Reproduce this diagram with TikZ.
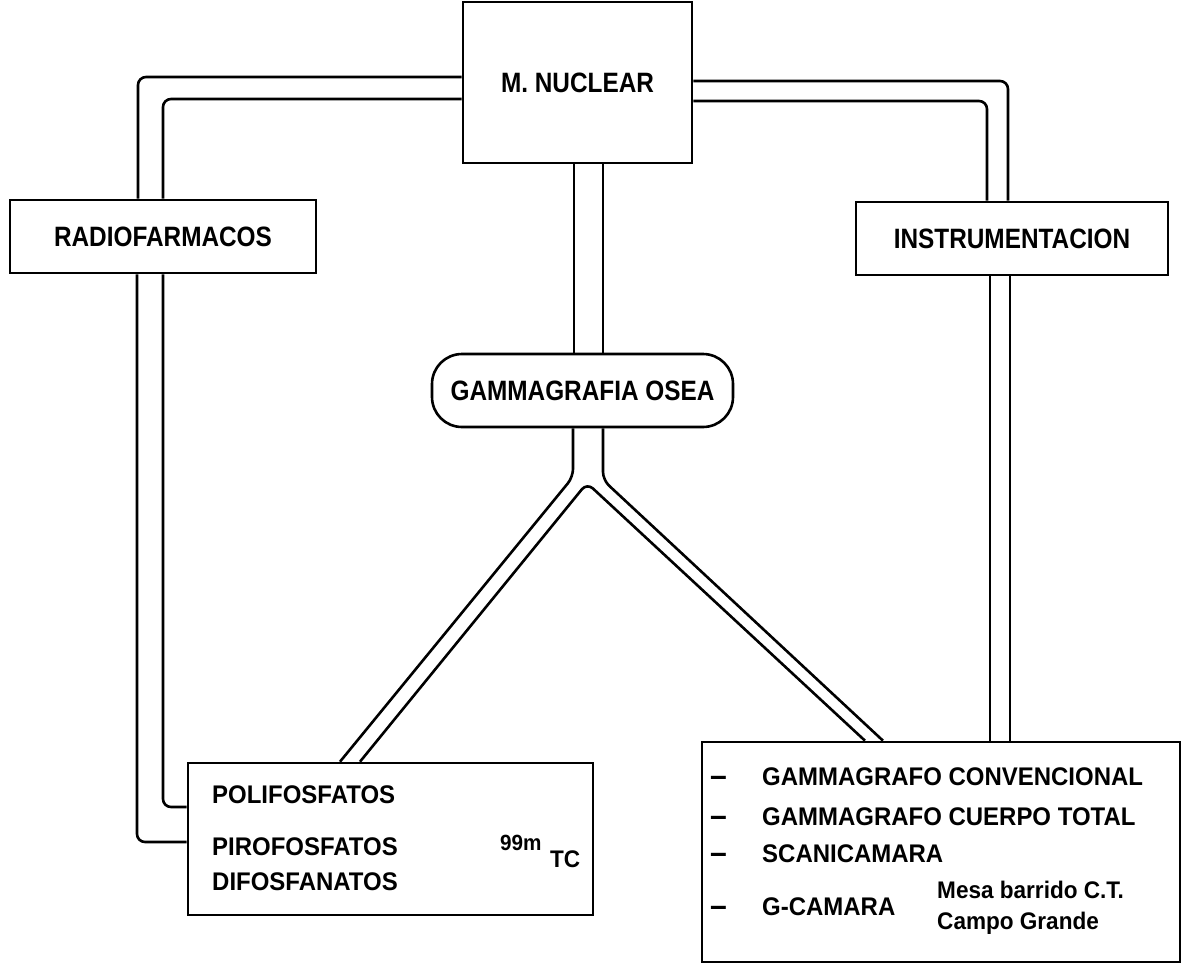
\documentclass[tikz,border=0pt]{standalone}
\usepackage{fontspec}
\newfontfamily\labelfont{Liberation Sans}[FakeStretch=0.87]
\newfontfamily\listfont{Liberation Sans}[FakeStretch=0.94]

\begin{document}
\begin{tikzpicture}[x = 1pt, y = -1pt,
		box/.style = {draw, line width = 2.6pt, fill = white, inner sep = 0pt, font = \labelfont\bfseries\fontsize{28}{32}\selectfont},
		pipe/.style = {line width = 2.6pt, rounded corners = 8pt},
		item/.style = {anchor = base west, inner sep = 0pt, font = \listfont\bfseries\fontsize{25.5}{30}\selectfont},
		note/.style = {item, font = \listfont\bfseries\fontsize{24}{28}\selectfont}]
	\useasboundingbox (0,0) rectangle (1183,967);
	\node[box, minimum width = 229pt, minimum height = 161pt] (nuclear) at (577.5,82.5) {M. NUCLEAR};
	\node[box, minimum width = 306pt, minimum height = 73pt] (radio) at (163,236.5) {RADIOFARMACOS};
	\node[box, minimum width = 312pt, minimum height = 73pt] (instr) at (1012,238.5) {INSTRUMENTACION};
	\node[box, rounded corners = 30pt, minimum width = 301pt, minimum height = 73pt] (gamma) at (582.5,390.5) {GAMMAGRAFIA OSEA};
	\node[box, minimum width = 405pt, minimum height = 152pt] (fosfatos) at (390.5,839) {}; %radiofarmacos list
	\node[box, minimum width = 478pt, minimum height = 220pt] (equipos) at (941,852) {}; %instrumentacion list
	\node[item] (poli) at (212,803) {POLIFOSFATOS};
	\node[item] (piro) at (212,855) {PIROFOSFATOS};
	\node[item] (difo) at (212,890) {DIFOSFANATOS};
	\node[item, font = \listfont\bfseries\fontsize{22}{26}\selectfont] (isot) at (500,850) {99m};
	\node[item, font = \listfont\bfseries\fontsize{24}{28}\selectfont] (tc) at (550,867) {TC};
	\foreach \y/\txt [count = \i] in {785/GAMMAGRAFO CONVENCIONAL, 825/GAMMAGRAFO CUERPO TOTAL, 862/SCANICAMARA, 915/G-CAMARA} {
		\node[item, font = \listfont\bfseries\fontsize{32}{36}\selectfont] (dash\i) at (710,\y+1.5) {–};
		\node[item] (eq\i) at (762,\y) {\txt};
	}
	\node[note] (mesa) at (937,898) {Mesa barrido C.T.};
	\node[note] (campo) at (937,929) {Campo Grande};
	\draw[pipe] (nuclear.west |- 0,77) -| (radio.north -| 138,0); %left pipe
	\draw[pipe] (nuclear.west |- 0,99) -| (radio.north -| 163,0);
	\draw[pipe] (radio.south -| 137,0) |- (fosfatos.west |- 0,842);
	\draw[pipe] (radio.south -| 163,0) |- (fosfatos.west |- 0,807);
	\draw[pipe] (nuclear.east |- 0,81) -| (instr.north -| 1008,0); %right pipe
	\draw[pipe] (nuclear.east |- 0,101) -| (instr.north -| 987,0);
	\draw[pipe] (instr.south -| 990,0) -- (equipos.north -| 990,0);
	\draw[pipe] (instr.south -| 1010,0) -- (equipos.north -| 1010,0);
	\draw[pipe] (nuclear.south -| 574,0) -- (gamma.north -| 574,0); %stem
	\draw[pipe] (nuclear.south -| 603,0) -- (gamma.north -| 603,0);
	\coordinate (forkL) at (573,477);
	\coordinate (forkR) at (603,480);
	\coordinate (apex) at (587,483);
	\draw[pipe] (gamma.south -| forkL) -- (forkL) -- (fosfatos.north -| 340,0); %fork
	\draw[pipe] (gamma.south -| forkR) -- (forkR) -- (equipos.north -| 883,0);
	\draw[pipe] (fosfatos.north -| 360,0) -- (apex) -- (equipos.north -| 865,0);
\end{tikzpicture}
\end{document}
